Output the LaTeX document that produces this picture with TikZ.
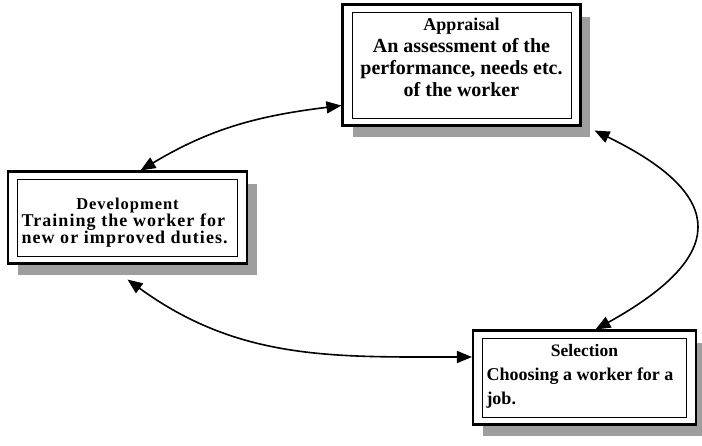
\documentclass[tikz,border=0pt]{standalone}
\usepackage{fontspec}
\setmainfont{Liberation Serif}
\newfontfamily\spacedfont{Liberation Serif}[LetterSpace=6]
\usetikzlibrary{arrows.meta}
\usetikzlibrary{fit}
\usetikzlibrary{shadows}
\usetikzlibrary{backgrounds}
\newcommand{\cardtext}[3]{\parbox[c][#1][t]{#2}{#3}}

\begin{document}
\begin{tikzpicture}[x=1pt,y=1pt,
    card/.style={draw,line width=0.9pt,fill=white,inner xsep=4pt,inner ysep=0pt,font=\bfseries},
    frame/.style={draw,line width=2.2pt,fill=white,inner xsep=9pt,inner ysep=7pt,
      drop shadow={shadow xshift=10pt,shadow yshift=-12pt,fill=black!38,opacity=1}},
    link/.style={{Triangle[length=15pt,width=12pt]}-{Triangle[length=15pt,width=12pt]},line width=1.6pt}]
  \useasboundingbox (0,0) rectangle (702,445);
  \node[card] (appr) at (461.5,380) {\cardtext{106pt}{211pt}{\centering
      \vspace{6pt}{\fontsize{18}{22}\selectfont Appraisal\par}
      \fontsize{20}{22}\selectfont An assessment of the\\ performance, needs etc.\\ of the worker}};
  \node[card] (dev) at (127.5,227.5) {\cardtext{77pt}{212pt}{\spacedfont\raggedright
      \vspace{19pt}{\centering\fontsize{16.5}{17}\selectfont Development\par}
      \fontsize{18}{17}\selectfont Training the worker for\\ new or improved duties.}};
  \node[card] (sel) at (584.5,67.5) {\cardtext{79pt}{196pt}{\raggedright
      \vspace{6pt}{\centering\fontsize{17.5}{24}\selectfont Selection\par}
      \fontsize{18}{24}\selectfont Choosing a worker for a\\ job.}};
  \begin{scope}[on background layer]
    \node[frame,fit=(appr)] (apprF) {};
    \node[frame,fit=(dev)] (devF) {};
    \node[frame,fit=(sel)] (selF) {};
  \end{scope}
  \draw[link] ([yshift=21pt]apprF.south west) to[out=187,in=31] ([xshift=13pt]devF.north);
  \draw[link] ([yshift=-15pt]devF.south) to[out=-36,in=180] ([yshift=20.5pt]selF.west);
  \draw[link] ([xshift=13pt,yshift=-4pt]apprF.south east) .. controls +(-26:150) and +(29:150) .. ([xshift=11pt]selF.north);
\end{tikzpicture}
\end{document}
